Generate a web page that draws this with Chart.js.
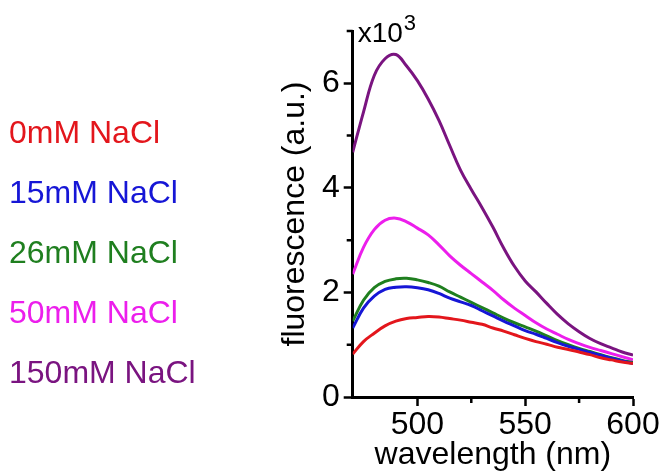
<!DOCTYPE html>
<html><head><meta charset="utf-8">
<script src="https://cdn.jsdelivr.net/npm/chart.js@4"></script>
<style>html,body{margin:0;padding:0;background:#fff}#wrap{width:665px;height:474px;position:relative}</style>
</head><body><div id="wrap"><canvas id="c"></canvas></div>
<script>
const wavelengths = [470,475,480,485,490,495,500,505,510,515,520,525,530,535,540,545,550,555,560,565,570,575,580,585,590,595,600];
const nacl0   = [0.82,1.06,1.22,1.36,1.45,1.50,1.52,1.54,1.53,1.50,1.47,1.43,1.39,1.32,1.26,1.19,1.12,1.06,1.01,0.95,0.91,0.86,0.81,0.75,0.71,0.67,0.64];
const nacl15  = [1.32,1.70,1.93,2.06,2.10,2.11,2.09,2.05,1.98,1.89,1.82,1.75,1.65,1.55,1.45,1.36,1.27,1.20,1.12,1.04,0.97,0.91,0.85,0.80,0.74,0.69,0.64];
const nacl26  = [1.45,1.85,2.09,2.21,2.26,2.27,2.24,2.19,2.12,2.01,1.91,1.81,1.71,1.61,1.51,1.42,1.34,1.26,1.17,1.08,1.00,0.93,0.87,0.81,0.75,0.70,0.66];
const nacl50  = [2.35,2.86,3.20,3.38,3.42,3.35,3.23,3.10,2.91,2.70,2.52,2.36,2.20,2.04,1.86,1.70,1.56,1.42,1.30,1.20,1.10,1.02,0.95,0.89,0.83,0.77,0.71];
const nacl150 = [4.68,5.45,6.15,6.47,6.55,6.33,6.05,5.70,5.29,4.81,4.34,3.97,3.62,3.25,2.85,2.50,2.22,2.01,1.79,1.58,1.40,1.25,1.12,1.02,0.94,0.86,0.80];
const seriesLabels = ['0mM NaCl','15mM NaCl','26mM NaCl','50mM NaCl','150mM NaCl'];
const seriesColors = ['#e3161c','#1616d6','#1f7f1f','#ec1eec','#7a1480'];
const xMajorTicks = [500,550,600];
const xMinorTicks = [525,575];
const yMajorTicks = [0,2,4,6];
const yMinorTicks = [1,3,5,7];
const xAxisTitle = 'wavelength (nm)';
const yAxisTitle = 'fluorescence (a.u.)';
const yExponentBase = 'x10';
const yExponentPower = '3';

const seriesValues = [nacl0, nacl15, nacl26, nacl50, nacl150];
const FAMILY = "'Liberation Sans', Arial, sans-serif";

const extras = {
  id: 'extras',
  afterDraw(chart) {
    const ctx = chart.ctx;
    const xs = chart.scales.x, ys = chart.scales.y;
    const area = chart.chartArea;
    ctx.save();
    ctx.strokeStyle = '#000';
    ctx.lineWidth = 2.5;
    ctx.beginPath();
    xMinorTicks.forEach(v => { const px = xs.getPixelForValue(v); ctx.moveTo(px, area.bottom); ctx.lineTo(px, area.bottom + 6); });
    yMinorTicks.forEach(v => { const py = ys.getPixelForValue(v); ctx.moveTo(area.left, py); ctx.lineTo(area.left - 6, py); });
    ctx.stroke();
    ctx.fillStyle = '#000';
    ctx.textAlign = 'left';
    ctx.textBaseline = 'alphabetic';
    ctx.font = '28px ' + FAMILY;
    const ex = area.left + 5;
    ctx.fillText(yExponentBase, ex, area.top + 11);
    const w = ctx.measureText(yExponentBase).width;
    ctx.font = '22px ' + FAMILY;
    ctx.fillText(yExponentPower, ex + w + 1, area.top - 1);
    ctx.font = '32px ' + FAMILY;
    chart.data.datasets.forEach((ds, i) => {
      ctx.fillStyle = ds.borderColor;
      ctx.fillText(ds.label, 9, 143 + i * 60);
    });
    ctx.restore();
  }
};

const gridOpts = { drawOnChartArea: false, drawTicks: true, tickLength: 9, tickWidth: 2.5, tickColor: '#000' };
const borderOpts = { display: true, color: '#000', width: 3 };

new Chart(document.getElementById('c'), {
  type: 'line',
  data: {
    datasets: seriesValues.map((vals, i) => ({
      label: seriesLabels[i],
      data: wavelengths.map((w, j) => ({ x: w, y: vals[j] })),
      borderColor: seriesColors[i],
      backgroundColor: seriesColors[i],
      borderWidth: 3,
      pointRadius: 0,
      tension: 0.4,
      fill: false
    }))
  },
  options: {
    responsive: true,
    maintainAspectRatio: false,
    animation: false,
    layout: { padding: { left: 272, top: 31, right: 32, bottom: 0 } },
    plugins: { legend: { display: false }, tooltip: { enabled: false } },
    scales: {
      x: {
        type: 'linear', min: 470, max: 600,
        afterBuildTicks: s => { s.ticks = xMajorTicks.map(v => ({ value: v })); },
        afterFit: s => { s.height = 77; },
        grid: gridOpts, border: borderOpts,
        ticks: { color: '#000', font: { family: FAMILY, size: 32 }, padding: 0, maxRotation: 0 },
        title: { display: true, text: xAxisTitle, color: '#000', font: { family: FAMILY, size: 32 }, padding: { top: 0, bottom: 0 } }
      },
      y: {
        type: 'linear', min: 0, max: 7,
        afterBuildTicks: s => { s.ticks = yMajorTicks.map(v => ({ value: v })); },
        afterFit: s => { s.width = 80.7; },
        grid: gridOpts, border: borderOpts,
        ticks: { color: '#000', font: { family: FAMILY, size: 32 }, padding: 4 },
        title: { display: true, text: yAxisTitle, color: '#000', font: { family: FAMILY, size: 32 }, padding: { top: 4, bottom: 0 } }
      }
    }
  },
  plugins: [extras]
});
</script></body></html>
